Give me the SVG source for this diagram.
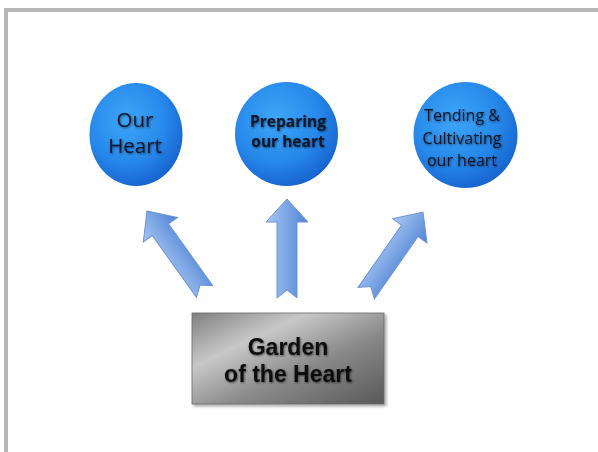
<svg xmlns="http://www.w3.org/2000/svg" width="598" height="452" viewBox="0 0 598 452">
<defs>
<radialGradient id="circ" cx="0.4" cy="0.35" r="0.7">
<stop offset="0" stop-color="#3ea6f8"/>
<stop offset="0.6" stop-color="#2688ea"/>
<stop offset="1" stop-color="#1660cc"/>
</radialGradient>
<linearGradient id="arr" x1="0" y1="0" x2="1" y2="0">
<stop offset="0" stop-color="#a9c8f2"/>
<stop offset="1" stop-color="#4f82d6"/>
</linearGradient>
<linearGradient id="box" x1="0" y1="0" x2="1" y2="1">
<stop offset="0" stop-color="#808080"/>
<stop offset="0.3" stop-color="#c8c8c8"/>
<stop offset="0.6" stop-color="#8a8a8a"/>
<stop offset="1" stop-color="#585858"/>
</linearGradient>
<filter id="sh" x="-20%" y="-20%" width="140%" height="140%">
<feDropShadow dx="2" dy="2" stdDeviation="1.5" flood-color="#000" flood-opacity="0.35"/>
</filter>
<filter id="tsh" x="-10%" y="-10%" width="120%" height="130%">
<feDropShadow dx="0.8" dy="1" stdDeviation="0.9" flood-color="#000" flood-opacity="0.55"/>
</filter>
<path id="arrowShape" d="M0,0 L21,23 L10,23 L10,99 L0,91 L-10,99 L-10,23 L-21,23 Z"/>
</defs>
<style>
.circle{fill:url(#circ);}
.ct{font-family:"Open Sans","Liberation Sans",sans-serif;fill:#0a162a;text-anchor:middle;filter:url(#tsh);}
.arrow{fill:url(#arr);stroke:#6c94d6;stroke-width:1;}
.bt{font-family:"Liberation Sans",Arial,sans-serif;font-weight:bold;font-size:23px;fill:#111;text-anchor:middle;filter:url(#tsh);}
</style>
<rect x="0" y="0" width="598" height="452" fill="#ffffff"/>
<rect x="6" y="10" width="600" height="450" fill="none" stroke="#b6b6b6" stroke-width="4"/>

<g id="connectors">
<use href="#arrowShape" class="arrow" transform="translate(147,211) rotate(-35.6)"/>
<use href="#arrowShape" class="arrow" transform="translate(287,199)"/>
<use href="#arrowShape" class="arrow" transform="translate(423,212) rotate(35)"/>
</g>

<g id="our-heart">
<ellipse class="circle" cx="136" cy="134.5" rx="46.5" ry="51.5"/>
<text class="ct" font-size="20.5" x="135" y="127">Our</text>
<text class="ct" font-size="20.5" x="135" y="153">Heart</text>
</g>

<g id="preparing">
<ellipse class="circle" cx="286.5" cy="134" rx="51.5" ry="52"/>
<text class="ct" font-size="15.5" font-weight="bold" x="288" y="127">Preparing</text>
<text class="ct" font-size="15.5" font-weight="bold" x="288" y="147">our heart</text>
</g>

<g id="tending">
<ellipse class="circle" cx="465.5" cy="135" rx="52" ry="53"/>
<text class="ct" font-size="16" x="462" y="121">Tending &amp;</text>
<text class="ct" font-size="16" x="462" y="144">Cultivating</text>
<text class="ct" font-size="16" x="462" y="166">our heart</text>
</g>

<g id="garden">
<rect x="192" y="313" width="192" height="91" fill="url(#box)" stroke="#6a6a6a" stroke-width="0.8" filter="url(#sh)"/>
<text class="bt" x="288" y="355">Garden</text>
<text class="bt" x="288" y="382">of the Heart</text>
</g>
</svg>
